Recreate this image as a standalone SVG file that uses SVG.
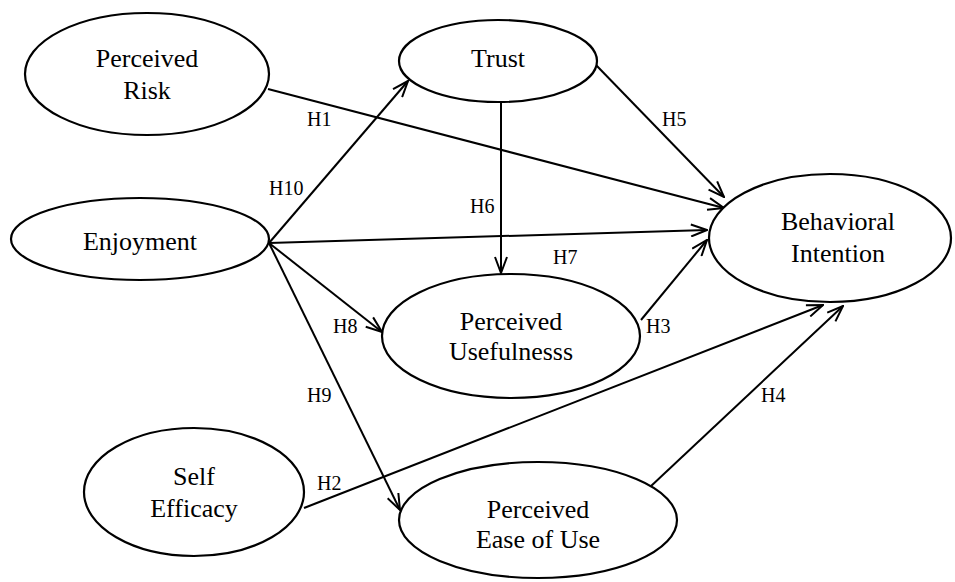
<svg xmlns="http://www.w3.org/2000/svg" width="955" height="582" viewBox="0 0 955 582">
<style>
.node ellipse{fill:#fff;stroke:#000;stroke-width:2.2}
.node text{font-size:26px;fill:#000;text-anchor:middle}
.edges line{stroke:#000;stroke-width:2;marker-end:url(#arr)}
.lbl{font-size:20px;fill:#000}
</style>
<defs>
<marker id="arr" viewBox="0 0 18 14" refX="17" refY="7" markerWidth="18" markerHeight="14" markerUnits="userSpaceOnUse" orient="auto">
<path d="M1,1 L17,7 L1,13" fill="none" stroke="#000" stroke-width="2"/>
</marker>
</defs>
<rect width="955" height="582" fill="#fff"/>
<g class="edges" id="connectors">
<line x1="268" y1="89" x2="724" y2="208"/>
<line x1="596" y1="65" x2="724" y2="197"/>
<line x1="269" y1="243" x2="408" y2="81"/>
<line x1="269" y1="243" x2="707" y2="230"/>
<line x1="501" y1="103" x2="501" y2="273"/>
<line x1="269" y1="243" x2="382" y2="332"/>
<line x1="269" y1="243" x2="400" y2="510"/>
<line x1="641" y1="320" x2="707" y2="240"/>
<line x1="304" y1="508" x2="823" y2="305"/>
<line x1="650" y1="487" x2="843" y2="306"/>
</g>
<g font-family="Liberation Serif, Times New Roman, serif">
<g id="risk" class="node"><ellipse cx="147" cy="74" rx="122" ry="61"/><text x="147" y="67">Perceived</text><text x="147" y="99">Risk</text></g>
<g id="trust" class="node"><ellipse cx="498" cy="61" rx="99" ry="41"/><text x="498" y="67">Trust</text></g>
<g id="enjoyment" class="node"><ellipse cx="140" cy="239" rx="129" ry="41"/><text x="140" y="250">Enjoyment</text></g>
<g id="intention" class="node"><ellipse cx="830" cy="238" rx="121" ry="64"/><text x="838" y="230">Behavioral</text><text x="838" y="262">Intention</text></g>
<g id="usefulness" class="node"><ellipse cx="511" cy="336" rx="129" ry="62"/><text x="511" y="330">Perceived</text><text x="511" y="360">Usefulnesss</text></g>
<g id="efficacy" class="node"><ellipse cx="194" cy="492" rx="110" ry="64"/><text x="194" y="485">Self</text><text x="194" y="517">Efficacy</text></g>
<g id="ease" class="node"><ellipse cx="538" cy="520" rx="139" ry="58"/><text x="538" y="518">Perceived</text><text x="538" y="548">Ease of Use</text></g>
<g id="labels">
<text class="lbl" x="307" y="126">H1</text>
<text class="lbl" x="269" y="195">H10</text>
<text class="lbl" x="662" y="126">H5</text>
<text class="lbl" x="470" y="213">H6</text>
<text class="lbl" x="553" y="264">H7</text>
<text class="lbl" x="333" y="333">H8</text>
<text class="lbl" x="307" y="402">H9</text>
<text class="lbl" x="317" y="490">H2</text>
<text class="lbl" x="646" y="333">H3</text>
<text class="lbl" x="761" y="402">H4</text>
</g>
</g>
</svg>
